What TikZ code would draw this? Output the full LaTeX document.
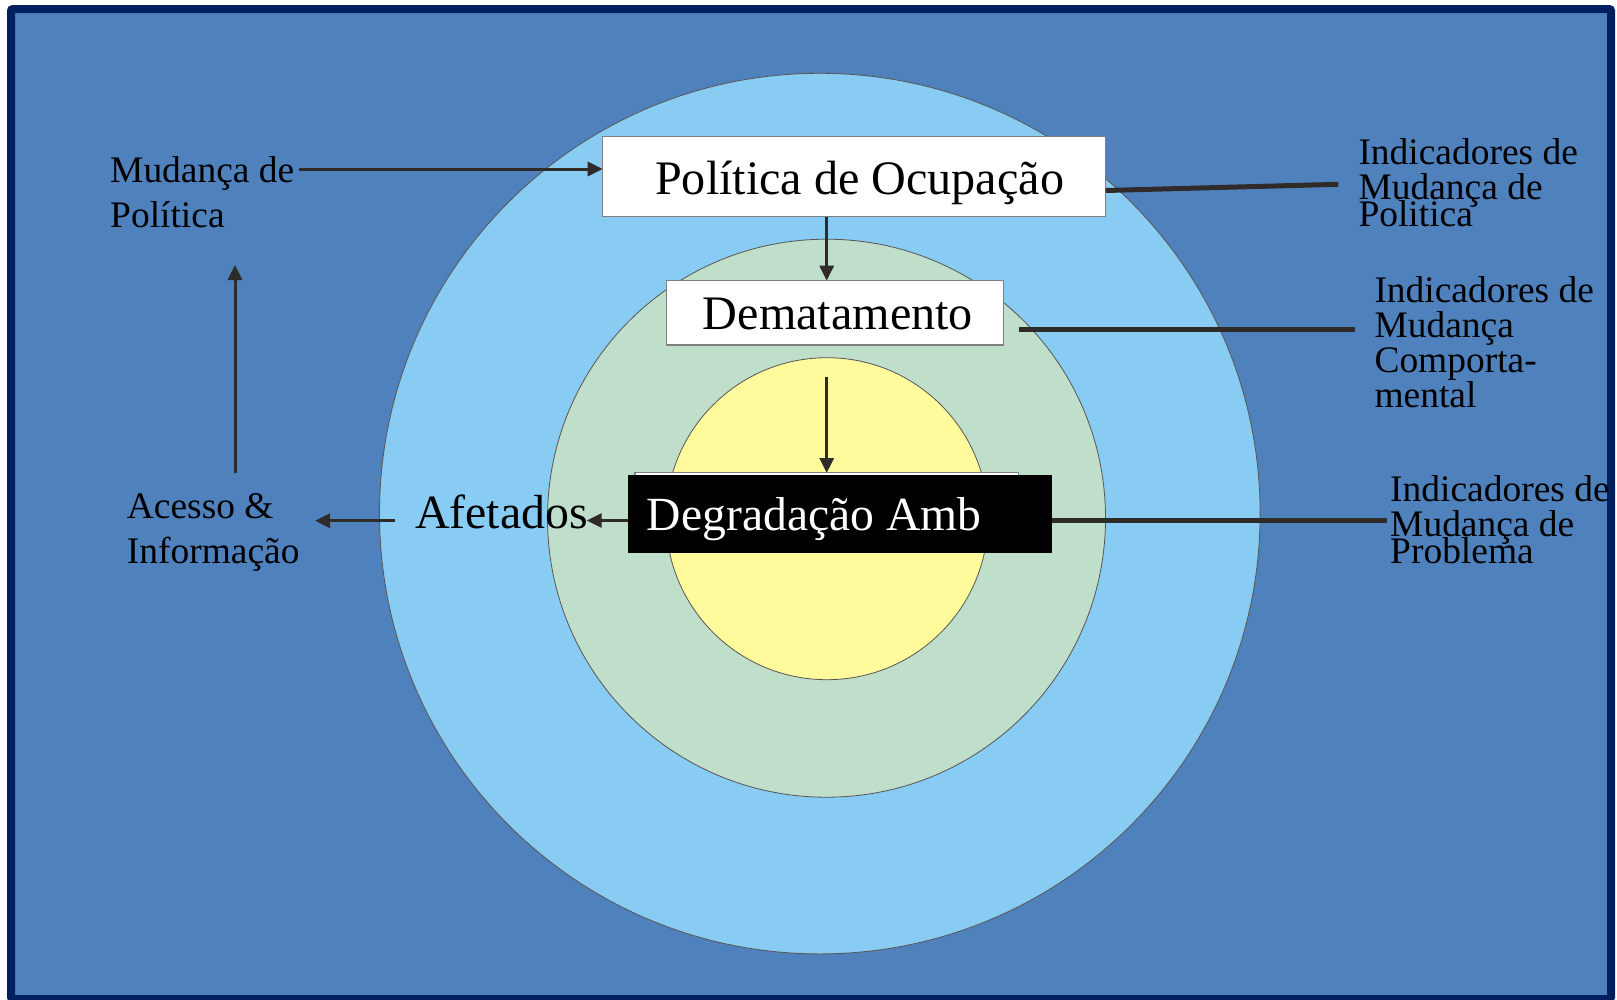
\documentclass[tikz,border=0pt]{standalone}
\usepackage{fontspec}
\setmainfont{Liberation Serif}
\usetikzlibrary{arrows.meta}
\definecolor{bgblue}{HTML}{4F81BD}
\definecolor{navy}{HTML}{002060}
\definecolor{ringblue}{HTML}{88CBF3}
\definecolor{ringgreen}{HTML}{BFDFCB}
\definecolor{ringyellow}{HTML}{FFFA9C}
\definecolor{ink}{HTML}{2E2B28}
\definecolor{boxgray}{HTML}{7F7F7F}
\begin{document}
\begin{tikzpicture}[x=1bp,y=-1bp,
  ring/.style={draw=ink!80,line width=0.8bp},
  whitebox/.style={fill=white,draw=boxgray,line width=1.5bp},
  bigtxt/.style={font=\fontsize{48.3}{52}\selectfont,inner sep=0pt,anchor=base west},
  lbltxt/.style={font=\fontsize{37.6}{45}\selectfont,inner sep=0pt,anchor=base west,align=left},
  indtxt/.style={font=\fontsize{37.6}{35.2}\selectfont,inner sep=0pt,anchor=base west,align=left},
  flow/.style={draw=ink,line width=3bp,-{Triangle[length=15bp,width=14bp]}},
  indline/.style={draw=ink,line width=5bp}]
\useasboundingbox (0,0) rectangle (1617,999);
% frame and background
\fill[white] (0,0) rectangle (1617,999);
\draw[fill=bgblue,draw=navy,line width=8bp,rounded corners=2bp] (11,9) rectangle (1611,999);
% rings
\draw[ring,fill=ringblue] (819.8,513.6) circle[radius=440.3];
\draw[ring,fill=ringgreen] (826.5,518.2) circle[radius=279];
\draw[ring,fill=ringyellow] (827,518.7) circle[radius=161];
% boxes
\draw[whitebox] (602.7,136.7) rectangle (1105.7,216.7);
\coordinate (polW) at (602.7,169);
\coordinate (polS) at (826.7,216.7);
\coordinate (polE) at (1105.7,190.5);
\node[bigtxt] (pol) at (655,194) {Política de Ocupação};
\draw[whitebox] (666.7,280.7) rectangle (1003.3,345);
\coordinate (demN) at (826.7,280.7);
\node[bigtxt] (dem) at (702.7,329.3) {Dematamento};
\draw[whitebox] (635,472.7) rectangle (1018.3,548);
\fill[black] (628.3,475) rectangle (1051.7,552.7);
\coordinate (degN) at (826.7,473);
\coordinate (degW) at (628.3,520.5);
\coordinate (degE) at (1051.7,520);
\node[bigtxt,font=\fontsize{47.8}{52}\selectfont,text=white] (deg) at (646.7,530.7) {Degradação Amb};
% left texts
\node[bigtxt,font=\fontsize{48}{52}\selectfont] (afe) at (415,528.3) {Afetados};
\node[lbltxt] (mud) at (110,227.7) {Mudança de\\Política};
\node[lbltxt] (ace) at (126.7,563.3) {Acesso \&\\Informação};
% right texts
\node[indtxt] (ind1) at (1358.3,226.7) {Indicadores de\\Mudança de\\[-8bp]Politica};
\node[indtxt] (ind2) at (1374.3,407.3) {Indicadores de\\Mudança\\Comporta-\\mental};
\node[indtxt] (ind3) at (1390,563.3) {Indicadores de\\Mudança de\\[-8bp]Problema};
% connectors
\coordinate (mudE) at (299,169);
\coordinate (demS) at (826.7,376.7);
\coordinate (afeE) at (586.7,520.5);
\coordinate (afeW) at (395,520.7);
\coordinate (aceE) at (315,520.7);
\coordinate (aceN) at (235,472.7);
\coordinate (mudS) at (235,265);
\coordinate (ind1W) at (1338.3,184.3);
\coordinate (ind2W) at (1355,329);
\coordinate (ind2L) at (1019,329);
\coordinate (ind3W) at (1386.7,520);
\draw[flow] (mudE) -- (polW);
\draw[flow] (polS) -- (demN);
\draw[flow] (demS) -- (degN);
\draw[flow] (degW) -- (afeE);
\draw[flow] (afeW) -- (aceE);
\draw[flow] (aceN) -- (mudS);
\draw[indline] (polE) -- (ind1W);
\draw[indline] (ind2L) -- (ind2W);
\draw[indline] (degE) -- (ind3W);
\end{tikzpicture}
\end{document}
